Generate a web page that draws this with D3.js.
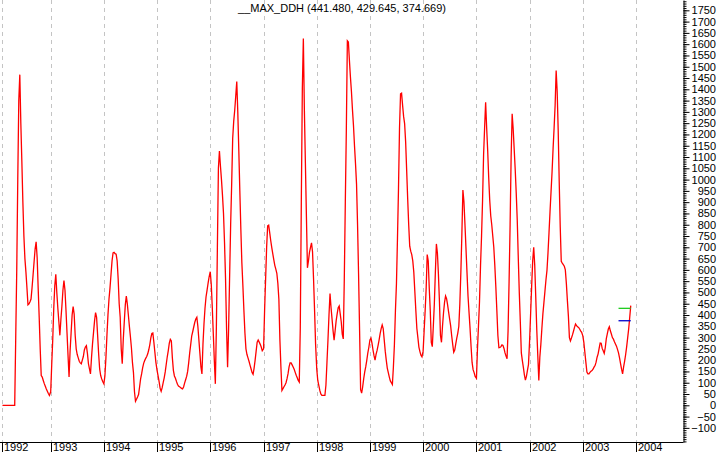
<!DOCTYPE html>
<html><head><meta charset="utf-8">
<script src="https://cdn.jsdelivr.net/npm/d3@7"></script>
<style>html,body{margin:0;padding:0;background:#fff;overflow:hidden}</style>
</head><body><svg id="c" width="719" height="452"></svg>
<script>
const title = "__MAX_DDH (441.480, 429.645, 374.669)";
// weekly values per year (week i of a year = Jan 1 + 7*i days)
const firstWeek1992 = 5;
const v1992 = [0,0,0,0,0,0,0,0,0,0,0,0,0,300,600,1000,1350,1465,1250,1080,900,750,650,590,520,445,449,459,471,521,577,636,692,724,655,520,390,250,132,125,110,96,84,72,62,52,44];
const v1993 = [60,180,290,430,530,580,499,430,370,310,380,440,510,553,510,420,320,220,125,240,320,400,437,404,310,250,225,210,195,188,184,200,216,245,258,264,230,184,161,139,210,272,323,374,411,390,310,228,161,132,117,105];
const v1994 = [95,130,210,310,400,470,520,580,640,675,678,672,670,640,560,450,390,250,184,290,370,445,484,448,400,350,305,255,190,145,60,18,27,37,48,81,117,139,166,186,198,208,216,228,246,268,298,318,320,280,235,190];
const v1995 = [155,130,105,75,62,78,100,122,148,182,215,242,275,292,285,210,155,130,120,106,93,85,82,79,75,73,81,98,113,128,150,188,232,270,308,327,348,368,382,390,350,290,230,170,139,270,360,430,480,509,540,568];
const v1996 = [592,536,433,316,198,95,345,700,1050,1126,1060,1000,930,850,720,560,338,169,338,573,800,979,1182,1258,1307,1370,1434,1300,1130,950,780,630,530,420,320,250,225,210,195,178,162,145,137,165,200,240,280,289,280,270,258,242];
const v1997 = [250,420,560,700,795,798,765,730,700,672,645,620,603,585,540,470,290,170,66,74,82,90,100,118,140,170,188,188,179,170,160,146,133,122,110,103,345,900,1402,1625,1307,1072,837,609,640,678,700,720,680,560,420,270];
const v1998 = [160,110,88,66,50,44,44,44,44,90,190,290,400,495,433,382,330,289,330,374,405,432,440,405,370,315,294,560,900,1220,1615,1610,1530,1455,1390,1310,1240,1150,1070,980,800,580,330,69,54,81,117,147,170,198,230,255];
const v1999 = [290,298,275,245,220,200,226,243,265,290,318,340,356,340,290,240,200,165,145,125,108,100,92,170,270,420,540,740,960,1230,1380,1383,1330,1280,1248,1167,1042,915,800,705,683,668,640,590,505,420,340,300,258,238,222,215];
const v2000 = [240,330,420,520,668,640,520,420,279,260,350,450,590,715,675,580,460,310,279,350,410,456,484,472,445,413,382,352,308,270,235,245,272,298,320,350,450,590,760,954,903,803,697,590,485,412,342,262,190,158,145,128];
const v2001 = [120,250,352,460,620,750,910,1110,1230,1343,1230,1130,1010,910,840,800,750,700,620,525,420,310,255,256,260,268,265,252,232,218,206,330,550,800,1100,1292,1225,1135,1045,940,820,655,500,370,232,198,168,135,112,128,155,180];
const v2002 = [290,410,530,640,700,620,480,335,220,110,213,270,340,405,455,505,555,598,675,765,859,947,1035,1138,1230,1330,1483,1390,1218,990,790,638,630,623,616,600,540,465,395,300,285,298,312,328,345,360,353,348,345,338,330,323];
const v2003 = [308,279,235,190,147,139,139,146,151,154,160,169,176,191,213,228,252,276,275,252,242,230,255,294,316,338,348,330,316,300,293,282,272,262,248,232,210,185,160,139,170,196,225,260,300,340,390,441.48];
// horizontal level lines at the end of the series
const levelValues = [429.645, 374.669];
const levelColors = ["#22cc22", "#0000cc"];
const levelWeeks2003 = [35, 47];
// axis ticks
const yLabelTicks = d3.range(-100, 1751, 50);
const yMinorTicks = d3.range(-160, 1791, 10);
const yearLabels = ["1992","1993","1994","1995","1996","1997","1998","1999","2000","2001","2002","2003","2004"];

const FONT = '"Liberation Sans Narrow","Arial Narrow","Liberation Sans",Arial,sans-serif';
const svg = d3.select("#c");
const plotBottom = 442, axisX = 683.5;

const weekDate = (year, i) => new Date(year, 0, 1 + 7 * i);
const yearArrays = [[1992, v1992, firstWeek1992],[1993, v1993, 0],[1994, v1994, 0],[1995, v1995, 0],[1996, v1996, 0],[1997, v1997, 0],[1998, v1998, 0],[1999, v1999, 0],[2000, v2000, 0],[2001, v2001, 0],[2002, v2002, 0],[2003, v2003, 0]];
const series = [];
yearArrays.forEach(([yr, arr, off]) => arr.forEach((v, i) => series.push({date: weekDate(yr, i + off), value: v})));

const x = d3.scaleTime().domain([new Date(1993,0,1), new Date(2004,0,1)]).range([50.7, 636]);
const y = d3.scaleLinear().domain([-162.6, 1795.7]).range([plotBottom, 0]);

const tickDates = yearLabels.map((l, i) => i === 0 ? series[0].date : new Date(+l, 0, 1));
const px = d => Math.round(x(d)) + 0.5;

// dashed vertical grid
svg.append("g").selectAll("line").data(tickDates).join("line")
  .attr("x1", px).attr("x2", px).attr("y1", 0).attr("y2", plotBottom)
  .attr("stroke", "#c4c4c4").attr("stroke-width", 1).attr("stroke-dasharray", "4,4");

// bottom axis line
svg.append("line").attr("x1", 0).attr("x2", axisX).attr("y1", plotBottom + 0.5).attr("y2", plotBottom + 0.5)
  .attr("stroke", "#000").attr("stroke-width", 1);
const xt = svg.append("g").selectAll("g").data(tickDates).join("g");
xt.append("line").attr("x1", px).attr("x2", px).attr("y1", plotBottom).attr("y2", 452)
  .attr("stroke", "#000").attr("stroke-width", 1);
xt.append("text").attr("x", d => Math.round(x(d)) + 2).attr("y", 451)
  .text((d, i) => yearLabels[i]).attr("font-family", FONT).attr("font-size", 11).attr("fill", "#000");

// right axis
const gMinor = svg.append("g").attr("transform", `translate(${axisX},0)`)
  .call(d3.axisRight(y).tickValues(yMinorTicks).tickSize(3).tickSizeOuter(0).tickFormat(""));
gMinor.select(".domain").remove();
const gMajor = svg.append("g").attr("transform", `translate(${axisX},0)`)
  .call(d3.axisRight(y).tickValues(yLabelTicks).tickSize(6).tickSizeOuter(0).tickFormat(d3.format("d")));
gMajor.selectAll("text").attr("x", 32.5).attr("text-anchor", "end")
  .attr("font-family", FONT).attr("font-size", 11).attr("fill", "#000");
gMajor.attr("font-family", FONT);

// series
const line = d3.line().x(d => x(d.date)).y(d => y(d.value));
svg.append("path").datum(series).attr("d", line)
  .attr("fill", "none").attr("stroke", "#ff0000").attr("stroke-width", 1.3);

// level lines
levelValues.forEach((v, k) => {
  const pts = levelWeeks2003.map(w => ({date: weekDate(2003, w), value: v}));
  svg.append("path").datum(pts).attr("d", line)
    .attr("fill", "none").attr("stroke", levelColors[k]).attr("stroke-width", 1.3);
});

// title
svg.append("text").attr("x", 342).attr("y", 12).attr("text-anchor", "middle")
  .attr("font-family", FONT).attr("font-size", 11).attr("fill", "#000").text(title);
</script></body></html>
